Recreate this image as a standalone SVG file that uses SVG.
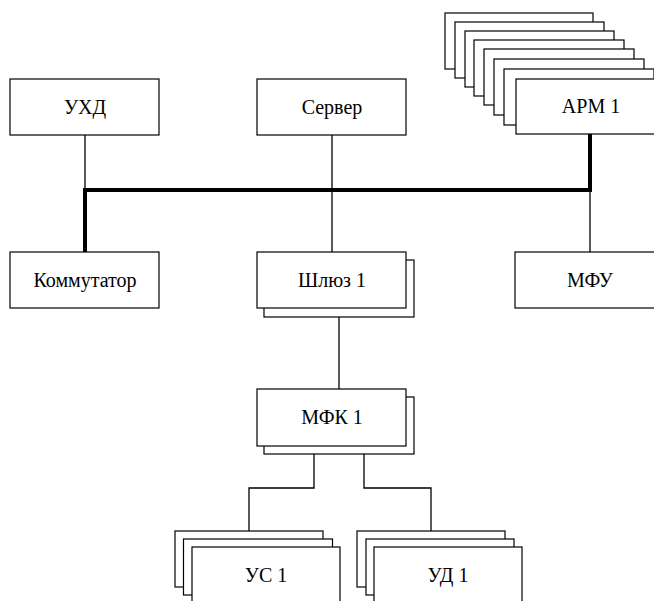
<svg xmlns="http://www.w3.org/2000/svg" width="654" height="601" viewBox="0 0 654 601">
<style>
.b{fill:#fff;stroke:#000;stroke-width:1.2}
.t{font-family:'Liberation Serif','Times New Roman','DejaVu Serif',serif;font-size:20px;text-anchor:middle;fill:#000}
.w{fill:none;stroke:#000;stroke-width:1.3}
.k{fill:none;stroke:#000;stroke-width:4}
</style>
<rect width="654" height="601" fill="#fff"/>
<g id="connectors">
<path class="w" d="M85,135V190"/>
<path class="w" d="M332,135V252"/>
<path class="w" d="M590,190V252"/>
<path class="w" d="M339,317V389"/>
<path class="w" d="M314,454V488H249V531"/>
<path class="w" d="M364,454V488H431V531"/>
<path class="k" d="M85,252V190H590V134"/>
</g>
<g id="uhd"><rect class="b" x="10" y="79" width="149" height="56"/><text class="t" x="85" y="114">УХД</text></g>
<g id="server"><rect class="b" x="257" y="79" width="149" height="56"/><text class="t" x="332" y="114">Сервер</text></g>
<g id="arm">
<rect class="b" x="445" y="13" width="148" height="56"/>
<rect class="b" x="455" y="22" width="149" height="56"/>
<rect class="b" x="465" y="31" width="149" height="56"/>
<rect class="b" x="474" y="40" width="150" height="56"/>
<rect class="b" x="484" y="49" width="150" height="56"/>
<rect class="b" x="494" y="59" width="150" height="56"/>
<rect class="b" x="504" y="69" width="150" height="56"/>
<rect class="b" x="516" y="79" width="150" height="55"/>
<text class="t" x="591" y="113">АРМ 1</text>
</g>
<g id="kommutator"><rect class="b" x="10" y="252" width="149" height="56"/><text class="t" x="85" y="287" font-family="Liberation Serif, serif">Коммутатор</text></g>
<g id="shluz">
<rect class="b" x="264" y="260" width="150" height="57"/>
<rect class="b" x="257" y="252" width="149" height="56"/>
<text class="t" x="332" y="287">Шлюз 1</text>
</g>
<g id="mfu"><rect class="b" x="515" y="252" width="150" height="56"/><text class="t" x="590" y="287">МФУ</text></g>
<g id="mfk">
<rect class="b" x="264" y="397" width="150" height="57"/>
<rect class="b" x="257" y="389" width="149" height="57"/>
<text class="t" x="332" y="424">МФК 1</text>
</g>
<g id="us">
<rect class="b" x="175" y="531" width="148" height="56"/>
<rect class="b" x="183.5" y="539" width="149" height="56"/>
<rect class="b" x="192" y="547" width="148" height="56"/>
<text class="t" x="266" y="582">УС 1</text>
</g>
<g id="ud">
<rect class="b" x="357" y="531" width="148" height="56"/>
<rect class="b" x="366" y="539" width="148" height="56"/>
<rect class="b" x="374" y="547" width="148" height="56"/>
<text class="t" x="448" y="582">УД 1</text>
</g>
</svg>
